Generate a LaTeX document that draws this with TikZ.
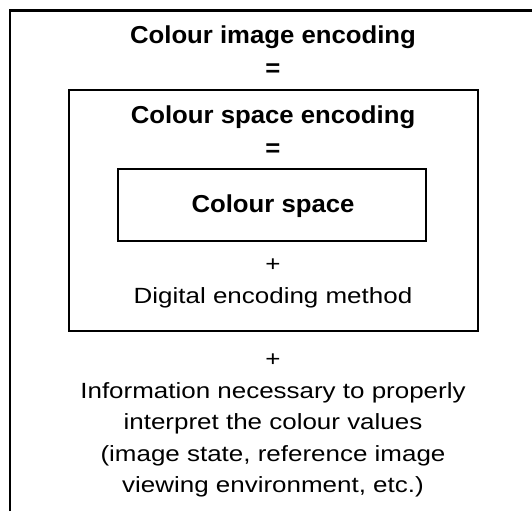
\documentclass[tikz,border=0pt]{standalone}
\usepackage{fontspec}
\setmainfont{Liberation Sans}
\newfontfamily\bodyfont[FakeStretch=1.18]{Liberation Sans}
\newfontfamily\titlefont[FakeStretch=1.05]{Liberation Sans}
\begin{document}
\begin{tikzpicture}[x=1pt,y=-1pt,
  plain/.style={font=\bodyfont\fontsize{22}{30}\selectfont, anchor=base, inner sep=0pt},
  head/.style={font=\titlefont\bfseries\fontsize{24.5}{30}\selectfont, anchor=base, inner sep=0pt},
  frame/.style={draw, line width=2pt, inner sep=0pt, anchor=center},
  edge/.style={line width=2.2pt}]
\useasboundingbox (0,0) rectangle (532,511);

% outer frame (only its left and top sides lie inside the page)
\coordinate (fbl) at (10,511);
\coordinate (ftl) at (10,10.5);
\coordinate (ftr) at (532,10.5);
\draw[edge] (fbl) -- (ftl) -- (ftr);

% boxes
\node[frame, minimum width=409pt, minimum height=241pt] (mid) at (273.5,210.5) {};
\node[frame, minimum width=308pt, minimum height=72pt] (inner) at (272,205) {};

% texts
\node[head] (t1) at (273,44) {Colour image encoding};
\node[head] (eq1) at (273,76) {=};
\node[head] (t2) at (273,123) {Colour space encoding};
\node[head] (eq2) at (273,156) {=};
\node[head] (t3) at (273,212) {Colour space};
\node[plain] (p1) at (273,271) {+};
\node[plain] (t4) at (273,303) {Digital encoding method};
\node[plain] (p2) at (273,366) {+};
\node[plain] (i1) at (273,398) {Information necessary to properly};
\node[plain] (i2) at (273,429.5) {interpret the colour values};
\node[plain] (i3) at (273,461) {(image state, reference image};
\node[plain] (i4) at (273,492.5) {viewing environment, etc.)};
\end{tikzpicture}
\end{document}
